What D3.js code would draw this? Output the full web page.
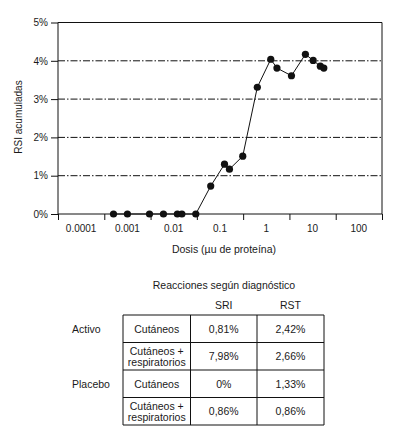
<!DOCTYPE html>
<html>
<head>
<meta charset="utf-8">
<script src="https://cdn.jsdelivr.net/npm/d3@7"></script>
<style>
  html, body { margin: 0; padding: 0; background: #fff; }
  svg { display: block; font-family: "Liberation Sans", Arial, sans-serif; }
  text { fill: #1a1a1a; }
</style>
</head>
<body>
<svg id="chart"></svg>
<script>
// dose (µu de proteína) and cumulative RSI (%)
const doses = [0.0005, 0.001, 0.003, 0.006, 0.012, 0.015, 0.03, 0.063, 0.125, 0.16,
               0.31, 0.64, 1.25, 1.7, 3.5, 7, 10.3, 14.7, 17.5];
const rsi = [0, 0, 0, 0, 0, 0, 0, 0.73, 1.30, 1.17,
             1.51, 3.31, 4.04, 3.81, 3.61, 4.17, 4.01, 3.86, 3.81];

const xLabels = [0.0001, 0.001, 0.01, 0.1, 1, 10, 100];
const yTicks = [0, 1, 2, 3, 4, 5];

// table
const tableTitle = "Reacciones según diagnóstico";
const tableCols = ["SRI", "RST"];
const groups = ["Activo", "Placebo"];
const rowTypes = [["Cutáneos"], ["Cutáneos +", "respiratorios"], ["Cutáneos"], ["Cutáneos +", "respiratorios"]];
const sriVals = ["0,81%", "7,98%", "0%", "0,86%"];
const rstVals = ["2,42%", "2,66%", "1,33%", "0,86%"];

const W = 393;
const H = 432;

const svg = d3.select("#chart")
    .attr("width", W)
    .attr("height", H);

const plot = { left: 58, right: 382, top: 22.5, bottom: 214 };

const x = d3.scaleLog()
    .domain([Math.pow(10, -4.5), Math.pow(10, 2.5)])
    .range([plot.left, plot.right]);

const y = d3.scaleLinear()
    .domain([0, 5])
    .range([plot.bottom, plot.top]);

// Grid (dash-dot)
svg.append("g")
    .selectAll("line")
    .data(yTicks.filter(d => d > 0 && d < 5))
    .enter()
    .append("line")
    .attr("x1", plot.left)
    .attr("x2", plot.right)
    .attr("y1", d => y(d))
    .attr("y2", d => y(d))
    .attr("stroke", "#111")
    .attr("stroke-width", 1)
    .attr("stroke-dasharray", "7,2,1.5,2");

// frame top + right
svg.append("path")
    .attr("d", `M${plot.left},${y(5)}H${plot.right}V${plot.bottom}`)
    .attr("fill", "none")
    .attr("stroke", "#111")
    .attr("stroke-width", 1);

// Axis Y
const yAxis = svg.append("g")
    .attr("transform", `translate(${plot.left},0)`)
    .call(d3.axisLeft(y)
        .tickValues(yTicks)
        .tickSize(7)
        .tickPadding(3)
        .tickFormat(d => d + "%"));
yAxis.selectAll("text").attr("font-size", 10).attr("fill", "#1a1a1a");
yAxis.selectAll("line, path").attr("stroke", "#111");
yAxis.select(".domain").attr("d", `M0,${plot.top}V${plot.bottom}`);

// Axis X: ticks on decade boundaries, labels in the middle
const bounds = d3.range(-4.5, 3, 1).map(e => Math.pow(10, e));
const xAxis = svg.append("g")
    .attr("transform", `translate(0,${plot.bottom})`)
    .call(d3.axisBottom(x)
        .tickValues(bounds)
        .tickSize(6)
        .tickFormat(""));
xAxis.selectAll("line, path").attr("stroke", "#111");
xAxis.select(".domain").attr("d", `M${plot.left},0H${plot.right}`);

svg.append("g")
    .selectAll("text")
    .data(xLabels)
    .enter()
    .append("text")
    .attr("x", d => x(d))
    .attr("y", 232)
    .attr("text-anchor", "middle")
    .attr("font-size", 10)
    .text(d => String(d));

// Label X
svg.append("text")
    .attr("x", (plot.left + plot.right) / 2 + 4)
    .attr("y", 253)
    .attr("text-anchor", "middle")
    .attr("font-size", 10.5)
    .text("Dosis (µu de proteína)");

// Label Y
svg.append("text")
    .attr("transform", "rotate(-90)")
    .attr("x", -117)
    .attr("y", 22)
    .attr("text-anchor", "middle")
    .attr("font-size", 10)
    .text("RSI acumuladas");

// line + markers
const pts = doses.map((d, i) => [d, rsi[i]]);

svg.append("path")
    .datum(pts)
    .attr("fill", "none")
    .attr("stroke", "#111")
    .attr("stroke-width", 1)
    .attr("d", d3.line().x(d => x(d[0])).y(d => y(d[1])));

svg.append("g")
    .selectAll("circle")
    .data(pts)
    .enter()
    .append("circle")
    .attr("cx", d => x(d[0]))
    .attr("cy", d => y(d[1]))
    .attr("r", 3.6)
    .attr("fill", "#111");

// Table
const colX = [123, 190.5, 257, 324];
const rowY = [315, 342.5, 370, 397.5, 425];
const tb = svg.append("g");

tb.append("text")
    .attr("x", 224)
    .attr("y", 289)
    .attr("text-anchor", "middle")
    .attr("font-size", 10.5)
    .text(tableTitle);

tb.selectAll("text.hdr")
    .data(tableCols)
    .enter()
    .append("text")
    .attr("class", "hdr")
    .attr("x", (d, i) => (colX[i + 1] + colX[i + 2]) / 2)
    .attr("y", 309)
    .attr("text-anchor", "middle")
    .attr("font-size", 10.5)
    .text(d => d);

tb.selectAll("text.grp")
    .data(groups)
    .enter()
    .append("text")
    .attr("class", "grp")
    .attr("x", 72)
    .attr("y", (d, i) => (rowY[i * 2] + rowY[i * 2 + 1]) / 2 + 4)
    .attr("font-size", 10.5)
    .text(d => d);

// grid lines of the table
tb.selectAll("line.h")
    .data(rowY)
    .enter()
    .append("line")
    .attr("x1", colX[0]).attr("x2", colX[3])
    .attr("y1", d => d).attr("y2", d => d)
    .attr("stroke", "#111");
tb.selectAll("line.v")
    .data(colX)
    .enter()
    .append("line")
    .attr("y1", rowY[0]).attr("y2", rowY[4])
    .attr("x1", d => d).attr("x2", d => d)
    .attr("stroke", "#111");

rowTypes.forEach((lines, r) => {
    const cy = (rowY[r] + rowY[r + 1]) / 2;
    const cells = [lines, [sriVals[r]], [rstVals[r]]];
    cells.forEach((cell, c) => {
        const cx = (colX[c] + colX[c + 1]) / 2;
        const t = tb.append("text")
            .attr("x", cx)
            .attr("text-anchor", "middle")
            .attr("font-size", 10.5);
        cell.forEach((s, k) => {
            t.append("tspan")
                .attr("x", cx)
                .attr("y", cy + 4 + (k - (cell.length - 1) / 2) * 11)
                .text(s);
        });
    });
});
</script>
</body>
</html>
